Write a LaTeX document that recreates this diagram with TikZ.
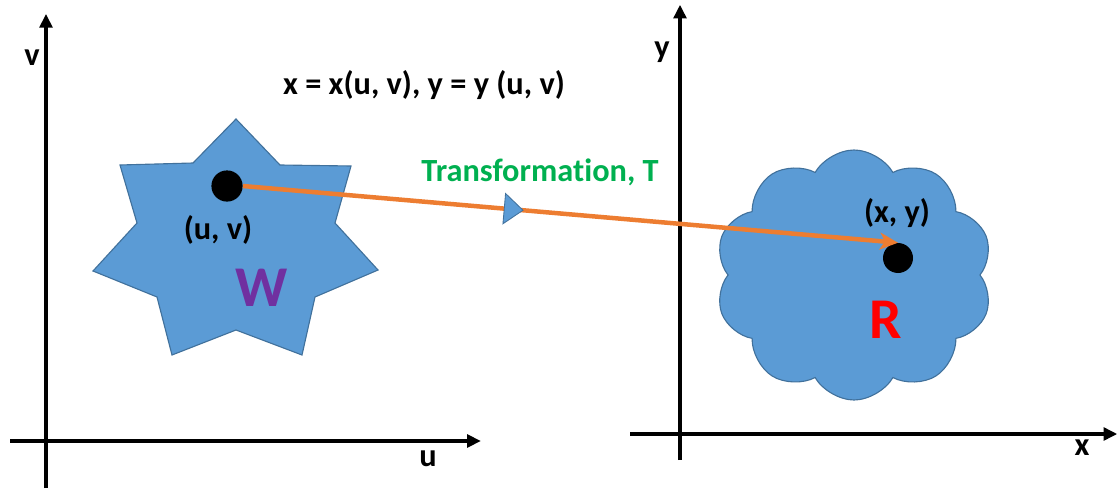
\documentclass[tikz,border=0pt]{standalone}
\usepackage{fontspec}
\setmainfont[Ligatures=NoCommon]{Carlito}
\usetikzlibrary{arrows.meta,shapes.geometric,shapes.symbols}
\definecolor{mapblue}{HTML}{5B9BD5}
\definecolor{mapedge}{HTML}{41719C}
\definecolor{maporange}{HTML}{ED7D31}
\definecolor{mapgreen}{HTML}{00B050}
\definecolor{mappurple}{HTML}{7030A0}

\begin{document}
\begin{tikzpicture}[
  font=\bfseries\fontsize{23}{27}\selectfont,
  axis/.style={line width=2.2pt,-{Triangle[length=0.34cm,width=0.32cm]}},
  region/.style={fill=mapblue,draw=mapedge,line width=0.8pt},
  spot/.style={circle,fill=black,inner sep=0pt,minimum size=0.78cm},
  tmap/.style={maporange,line width=3.2pt,-{Stealth[length=0.45cm,width=0.42cm,inset=0.12cm]}},
  dirmark/.style={isosceles triangle,isosceles triangle stretches,fill=mapblue,draw=mapedge,line width=0.6pt,
    inner sep=0pt,outer sep=0pt,minimum width=0.76cm,minimum height=0.47cm},
  big/.style={font=\bfseries\fontsize{41}{45}\selectfont}]
\useasboundingbox (0,0) rectangle (27.975,12.2);

% uv plane
\draw[axis] (1.15,0) -- (1.15,11.85);
\draw[axis] (0.25,1.175) -- (12.02,1.175);
\node (vlab) at (0.8,10.75) {v};
\node (ulab) at (10.7,0.72) {u};

% xy plane
\draw[axis] (17.0,0.7) -- (17.0,12.08);
\draw[axis] (15.75,1.35) -- (27.93,1.35);
\node (ylab) at (16.55,10.9) {y};
\node (xlab) at (27.05,1.0) {x};

\node (eqn) at (10.6,10.075) {x = x(u, v), y = y (u, v)};

% region W (seven point star)
\draw[region] (5.9,9.225) -- (7.0,8.075) -- (8.775,8.05) -- (8.375,6.625) -- (9.45,5.45)
  -- (7.875,4.775) -- (7.55,3.325) -- (5.9,3.95) -- (4.3,3.325) -- (3.925,4.775)
  -- (2.325,5.425) -- (3.425,6.625) -- (3.0,8.075) -- (4.825,8.125) -- cycle;

% region R
\node[cloud,region,cloud puffs=10,cloud puff arc=120,aspect=1.1,minimum width=6.95cm,minimum height=6.25cm] (rgn) at (21.35,5.325) {};

\node[spot] (uv) at (5.675,7.55) {};
\node (uvlab) at (5.45,6.45) {(u, v)};
\node[big,text=mappurple] (wlab) at (6.55,5.0) {W};

\node[spot,minimum size=0.75cm] (xy) at (22.45,5.75) {};
\node (xylab) at (22.425,6.875) {(x, y)};
\node[big,text=red] (rlab) at (22.15,4.2) {R};

\draw[tmap] (uv.east) -- node[pos=0.41,sloped,dirmark]{} (xy.north);
\node[text=mapgreen] (tlab) at (13.5,7.9) {Transformation, T};
\end{tikzpicture}
\end{document}
